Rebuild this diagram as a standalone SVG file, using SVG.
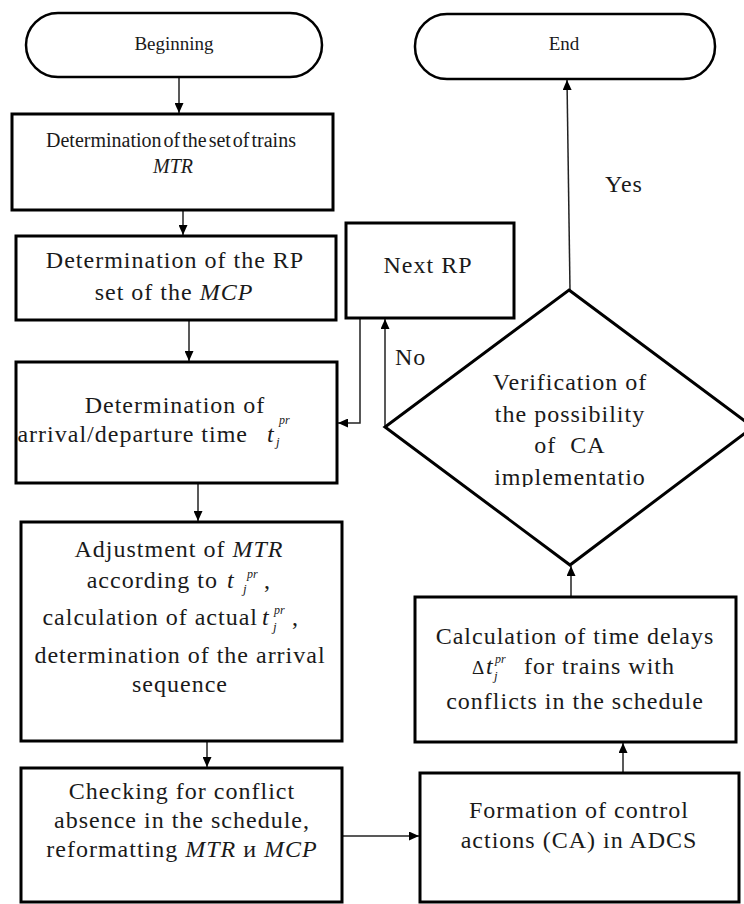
<svg xmlns="http://www.w3.org/2000/svg" width="744" height="904" viewBox="0 0 744 904" font-family="Liberation Serif, DejaVu Serif, serif">
<style>
.box{fill:#fff;stroke:#000;stroke-width:3}
.term{fill:#fff;stroke:#000;stroke-width:2.5}
.conn{fill:none;stroke:#222;stroke-width:1.5;marker-end:url(#ah)}
.t{font-size:24px;letter-spacing:1px;fill:#1a1a1a}
.m{text-anchor:middle}
.e{text-anchor:end}
.i{font-style:italic}
.sup{font-size:12px;font-style:italic;fill:#1a1a1a}
</style>
<defs>
<marker id="ah" markerUnits="userSpaceOnUse" markerWidth="10" markerHeight="9" refX="10" refY="4.5" orient="auto">
<path d="M0,0 L10,4.5 L0,9 z" fill="#000"/>
</marker>
<clipPath id="clipImpl"><rect x="380" y="300" width="370" height="187"/></clipPath>
</defs>

<g id="connectors">
<line class="conn" x1="179" y1="78" x2="179" y2="113"/>
<line class="conn" x1="183" y1="211" x2="183" y2="235"/>
<line class="conn" x1="189" y1="321" x2="189" y2="361"/>
<line class="conn" x1="198" y1="484" x2="198" y2="521"/>
<line class="conn" x1="207" y1="742" x2="207" y2="767"/>
<line class="conn" x1="343" y1="836" x2="419" y2="836"/>
<line class="conn" x1="623" y1="772" x2="623" y2="743"/>
<line class="conn" x1="571" y1="596" x2="571" y2="566"/>
<line class="conn" x1="570" y1="290" x2="567" y2="80"/>
<line class="conn" x1="385" y1="427" x2="385" y2="319"/>
<polyline class="conn" points="360,319 360,423 338,423"/>
</g>

<g id="beginning">
<rect class="term" x="26" y="13" width="296" height="64" rx="32"/>
<text class="t m" x="174" y="50" style="font-size:19px;letter-spacing:0">Beginning</text>
</g>

<g id="end">
<rect class="term" x="415" y="14" width="300" height="65" rx="32"/>
<text class="t m" x="564" y="50" style="font-size:19px;letter-spacing:0">End</text>
</g>

<g id="set-of-trains">
<rect class="box" x="12" y="114" width="321" height="96"/>
<text class="t m" x="171" y="147" style="font-size:20px;letter-spacing:0;word-spacing:-3px">Determination of the set of trains</text>
<text class="t m i" x="173" y="173" style="font-size:20px;letter-spacing:0">MTR</text>
</g>

<g id="rp-set">
<rect class="box" x="16" y="236" width="320" height="84"/>
<text class="t m" x="175" y="268">Determination of the RP</text>
<text class="t m" x="174" y="300">set of the <tspan class="i">MCP</tspan></text>
</g>

<g id="arrival-departure">
<rect class="box" x="16" y="362" width="321" height="121"/>
<text class="t m" x="175" y="413">Determination of</text>
<text class="t e" x="248" y="442">arrival/departure time</text>
<text class="t i" x="267" y="442">t</text>
<text class="sup" x="279" y="424">pr</text>
<text class="sup" x="276" y="446" style="font-size:13px">j</text>
</g>

<g id="next-rp">
<rect class="box" x="346" y="223" width="168" height="95"/>
<text class="t m" x="428" y="273">Next RP</text>
</g>

<g id="verification">
<polygon points="569,290 753,427 570,565 385,427" fill="#fff" stroke="#000" stroke-width="3"/>
<text class="t m" x="570" y="390">Verification of</text>
<text class="t m" x="570" y="422">the possibility</text>
<text class="t m" x="570" y="453" xml:space="preserve">of  CA</text>
<text class="t m" x="570" y="485" clip-path="url(#clipImpl)">implementatio</text>
</g>

<g id="labels">
<text class="t" x="395" y="365">No</text>
<text class="t" x="605" y="192">Yes</text>
</g>

<g id="adjustment">
<rect class="box" x="21" y="522" width="321" height="219"/>
<text class="t m" x="179" y="557">Adjustment of <tspan class="i">MTR</tspan></text>
<text class="t e" x="218" y="588">according to</text>
<text class="t i" x="227" y="588">t</text>
<text class="sup" x="247" y="578">pr</text>
<text class="sup" x="243" y="593" style="font-size:13px">j</text>
<text class="t" x="264" y="588">,</text>
<text class="t e" x="258" y="625">calculation of actual</text>
<text class="t i" x="262" y="625">t</text>
<text class="sup" x="274" y="614">pr</text>
<text class="sup" x="273" y="631" style="font-size:13px">j</text>
<text class="t" x="292" y="625">,</text>
<text class="t m" x="180" y="663">determination of the arrival</text>
<text class="t m" x="180" y="692">sequence</text>
</g>

<g id="checking">
<rect class="box" x="21" y="768" width="321" height="134"/>
<text class="t m" x="182" y="799">Checking for conflict</text>
<text class="t m" x="182" y="828">absence in the schedule,</text>
<text class="t m" x="182" y="857">reformatting <tspan class="i">MTR</tspan> и <tspan class="i">MCP</tspan></text>
</g>

<g id="formation">
<rect class="box" x="420" y="773" width="319" height="129"/>
<text class="t m" x="579" y="818">Formation of control</text>
<text class="t m" x="579" y="848">actions (CA) in ADCS</text>
</g>

<g id="time-delays">
<rect class="box" x="415" y="597" width="321" height="145"/>
<text class="t" x="472" y="674" style="font-size:19px;letter-spacing:0">Δ</text>
<text class="t i" x="486" y="674">t</text>
<text class="sup" x="495" y="663">pr</text>
<text class="sup" x="494" y="680" style="font-size:13px">j</text>
<text class="t m" x="575" y="644">Calculation of time delays</text>
<text class="t" x="524" y="674">for trains with</text>
<text class="t m" x="575" y="709">conflicts in the schedule</text>
</g>
</svg>
